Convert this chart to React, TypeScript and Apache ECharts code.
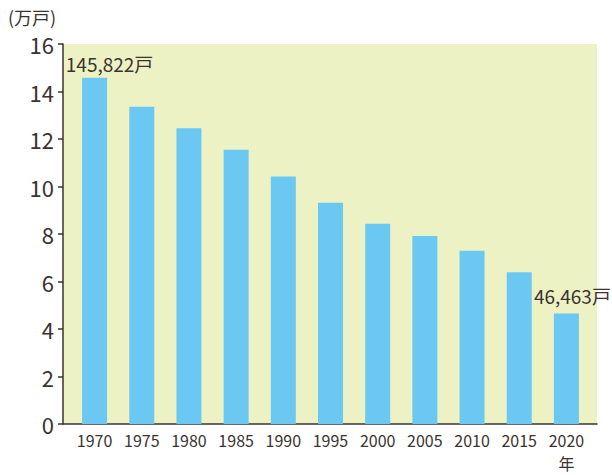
import React, { useEffect, useRef } from "react";
import * as echarts from "echarts";

const years = ["1970", "1975", "1980", "1985", "1990", "1995", "2000", "2005", "2010", "2015", "2020"];
const households = [14.58, 13.36, 12.45, 11.55, 10.42, 9.32, 8.43, 7.92, 7.29, 6.39, 4.65];
const yTicks = [0, 2, 4, 6, 8, 10, 12, 14, 16];
const firstNote = "145,822戸";
const lastNote = "46,463戸";
const unitLabel = "(万戸)";
const yearSuffix = "年";

const FONT = "'Noto Sans CJK JP', 'Noto Sans', sans-serif";
const TEXT = "#3a3330";

export default function App() {
  const ref = useRef<HTMLDivElement>(null);
  useEffect(() => {
    if (!ref.current) return;
    const chart = echarts.init(ref.current, undefined, { renderer: "svg" });
    const data = households.map((v, i) => {
      if (i === 0) {
        return {
          value: v,
          label: { show: true, position: "top", offset: [15, 0], formatter: firstNote },
        };
      }
      if (i === households.length - 1) {
        return {
          value: v,
          label: { show: true, position: "top", offset: [6, -4], formatter: lastNote },
        };
      }
      return v;
    });
    chart.setOption({
      animation: false,
      textStyle: { fontFamily: FONT },
      grid: [
        { left: 63, right: 15, top: 44, bottom: 51, show: true, backgroundColor: "#EDF2C4", borderWidth: 0, outerBoundsMode: "none", containLabel: false },
        { left: 71, width: 519, top: 44, bottom: 51, outerBoundsMode: "none", containLabel: false },
      ],
      xAxis: [
        {
          gridIndex: 0,
          type: "value",
          min: 0,
          max: 1,
          axisLine: { show: true, lineStyle: { color: "#3a3330", width: 1.5 } },
          axisTick: { show: false },
          axisLabel: { show: false },
          splitLine: { show: false },
        },
        {
          gridIndex: 1,
          type: "category",
          data: years,
          axisLine: { show: false },
          axisTick: { show: false },
          axisLabel: {
            interval: 0,
            color: TEXT,
            fontSize: 16,
            fontFamily: FONT,
            margin: 4,
            lineHeight: 23,
            formatter: (v: string, i: number) => (i === years.length - 1 ? v + "\n" + yearSuffix : v),
          },
        },
      ],
      yAxis: [
        {
          gridIndex: 0,
          type: "value",
          min: 0,
          max: 16,
          interval: 2,
          axisLine: { show: true, lineStyle: { color: "#3a3330", width: 1.5 } },
          axisTick: { show: true, inside: false, length: 5, lineStyle: { color: "#3a3330", width: 1.5 } },
          axisLabel: {
            color: TEXT,
            fontSize: 22,
            fontFamily: FONT,
            margin: 9,
            formatter: (v: number) => (yTicks.includes(v) ? String(v) : ""),
          },
          splitLine: { show: false },
          name: unitLabel,
          nameLocation: "end",
          nameGap: 18,
          nameTextStyle: { color: TEXT, fontSize: 18, fontFamily: FONT, align: "center", padding: [0, 62, 0, 0] },
        },
        {
          gridIndex: 1,
          type: "value",
          min: 0,
          max: 16,
          show: false,
        },
      ],
      series: [
        {
          type: "bar",
          xAxisIndex: 1,
          yAxisIndex: 1,
          data,
          barWidth: 25,
          itemStyle: { color: "#6BC8F2" },
          label: { show: false, color: TEXT, fontSize: 19, fontFamily: FONT },
        },
      ],
    });
    return () => chart.dispose();
  }, []);
  return <div ref={ref} style={{ width: 612, height: 475, position: "absolute", left: 0, top: 0 }} />;
}
